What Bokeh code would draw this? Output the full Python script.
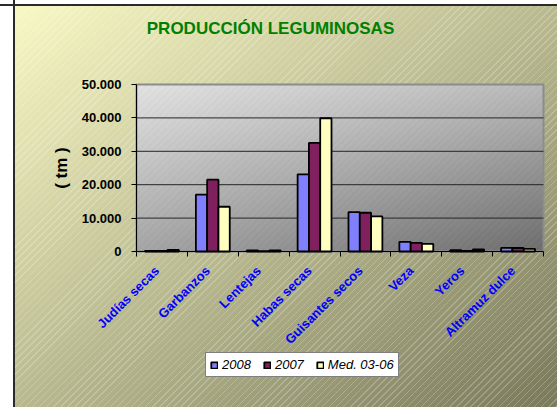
import numpy as np
from math import pi
from bokeh.plotting import figure
from bokeh.models import Range1d, FixedTicker, Legend, LegendItem, LinearAxis, Label
from bokeh.embed import file_html
from bokeh.resources import INLINE

# ---------------- data ----------------
categories = ["Judías secas", "Garbanzos", "Lentejas", "Habas secas",
              "Guisantes secos", "Veza", "Yeros", "Altramuz dulce"]
v2008 = [200, 17000, 300, 23100, 11800, 2900, 400, 1100]
v2007 = [200, 21500, 100, 32500, 11600, 2600, 200, 1050]
vmed = [500, 13400, 300, 39900, 10500, 2300, 600, 800]
series_names = ["2008", "2007", "Med. 03-06"]
series_colors = ["#8080ff", "#80205f", "#ffffc0"]
y_ticks = [0, 10000, 20000, 30000, 40000, 50000]
y_tick_labels = ["0", "10.000", "20.000", "30.000", "40.000", "50.000"]
grid_ticks = [10000, 20000, 30000, 40000]
title_text = "PRODUCCIÓN LEGUMINOSAS"
y_label = "( tm )"

W, H = 557, 407
# pixel box of the data area (0..N categories, 0..YMAX) inside the canvas
PL, PR, PT, PB = 136, 543, 84, 251
N = len(categories)
YMAX = 50000
xs_per_px = N / (PR - PL)
ys_per_px = YMAX / (PB - PT)
x_range = Range1d(-PL * xs_per_px, N + (W - PR) * xs_per_px)
y_range = Range1d(-(H - PB) * ys_per_px, YMAX + PT * ys_per_px)

FONT = "Liberation Sans"

outer_bg = ("linear-gradient(#2a2a2a,#2a2a2a) 0 4px / 100% 2px no-repeat, "
            "linear-gradient(#2a2a2a,#2a2a2a) 13px 0 / 2px 100% no-repeat, "
            "linear-gradient(#ffffff,#ffffff) 0 0 / 13px 100% no-repeat, "
            "linear-gradient(#ffffff,#ffffff) 0 0 / 100% 4px no-repeat, "
            "repeating-linear-gradient(135deg, rgba(255,255,255,0.22) 0px, rgba(255,255,255,0.22) 1px, "
            "rgba(255,255,255,0) 1px, rgba(255,255,255,0) 5px), "
            "linear-gradient(to bottom right, #fbfbc6, #7a7a5c)")

p = figure(width=W, height=H, output_backend="svg", toolbar_location=None,
           x_range=x_range, y_range=y_range, title=None,
           x_axis_location=None, y_axis_location=None,
           min_border=0, styles={"background": outer_bg})
p.border_fill_color = None
p.background_fill_color = None
p.outline_line_color = None
p.xgrid.visible = False
p.ygrid.visible = False

# plot-area grey gradient with faint hatching (decoration only)
fw, fh = PR - PL, PB - PT
gx = np.arange(fw)[None, :] / (fw - 1)
gy = np.arange(fh)[:, None] / (fh - 1)
c = 224 - 40 * gx - 60 * gy - 15 * gx * gy
ix = np.arange(fw)[None, :]
iy = np.arange(fh)[:, None]
c = c + ((ix + iy) % 7 == 0) * 10
c = np.clip(c, 0, 255).astype(np.uint8)[::-1, :]
img = np.empty((fh, fw), dtype=np.uint32)
view = img.view(dtype=np.uint8).reshape((fh, fw, 4))
view[:, :, 0] = c
view[:, :, 1] = c
view[:, :, 2] = c
view[:, :, 3] = 255
p.image_rgba(image=[img], x=0, y=0, dw=N, dh=YMAX, level="image")

# plot-area border and grid lines
p.quad(left=[0], right=[N], bottom=[0], top=[YMAX], fill_color=None,
       line_color="#8c8c8c", line_width=2)
p.segment(x0=[0] * len(grid_ticks), x1=[N] * len(grid_ticks), y0=grid_ticks, y1=grid_ticks,
          line_color="#262626", line_width=1)

# bars
bw = 0.222
offsets = [-bw, 0.0, bw]
renderers = []
for vals, off, col in zip([v2008, v2007, vmed], offsets, series_colors):
    xpos = [i + 0.5 + off for i in range(N)]
    r = p.vbar(x=xpos, top=vals, width=bw, bottom=0, fill_color=col,
               line_color="black", line_width=1.8)
    renderers.append(r)

# y axis
yaxis = LinearAxis(fixed_location=0, bounds=(0, YMAX))
yaxis.ticker = FixedTicker(ticks=y_ticks)
yaxis.major_label_overrides = dict(zip(y_ticks, y_tick_labels))
yaxis.major_label_text_font = FONT
yaxis.major_label_text_font_style = "bold"
yaxis.major_label_text_font_size = "13px"
yaxis.major_label_text_color = "black"
yaxis.major_tick_out = 5
yaxis.major_tick_in = 0
yaxis.major_tick_line_color = "black"
yaxis.minor_tick_line_color = None
yaxis.axis_line_color = "black"
yaxis.major_label_standoff = 10
yaxis.axis_label = y_label
yaxis.axis_label_text_font = FONT
yaxis.axis_label_text_font_style = "bold"
yaxis.axis_label_text_font_size = "17px"
yaxis.axis_label_text_color = "black"
yaxis.axis_label_standoff = 8
p.add_layout(yaxis, "left")

# x axis (labels anchored slightly left of the group centre, as in the original)
xt = [i + 0.4 for i in range(N)]
xaxis = LinearAxis(fixed_location=0, bounds=(0, N))
xaxis.ticker = FixedTicker(ticks=xt, minor_ticks=list(range(N + 1)))
xaxis.major_label_overrides = dict(zip(xt, categories))
xaxis.major_label_orientation = pi / 4
xaxis.major_label_text_font = FONT
xaxis.major_label_text_font_style = "bold"
xaxis.major_label_text_font_size = "13px"
xaxis.major_label_text_color = "#0000ff"
xaxis.major_label_standoff = 11
xaxis.major_tick_line_color = None
xaxis.minor_tick_line_color = "black"
xaxis.minor_tick_out = 5
xaxis.minor_tick_in = 0
xaxis.axis_line_color = "black"
p.add_layout(xaxis, "below")

# title
p.add_layout(Label(x=270, y=H - 28, x_units="screen", y_units="screen",
                   text=title_text, text_align="center", text_baseline="middle",
                   text_font=FONT, text_font_style="bold", text_font_size="17px",
                   text_color="#008000"))

# legend
legend = Legend(items=[LegendItem(label=n, renderers=[r]) for n, r in zip(series_names, renderers)],
                orientation="horizontal", location=(205, H - 377))
legend.background_fill_color = "white"
legend.background_fill_alpha = 1
legend.border_line_color = "black"
legend.border_line_width = 1
legend.label_text_font = FONT
legend.label_text_font_style = "italic"
legend.label_text_font_size = "13px"
legend.label_text_color = "black"
legend.glyph_width = 8
legend.glyph_height = 8
legend.label_standoff = 4
legend.spacing = 12
legend.padding = 4
legend.margin = 0
legend.label_height = 12
p.add_layout(legend)

open("out.html", "w").write(file_html(p, INLINE))
